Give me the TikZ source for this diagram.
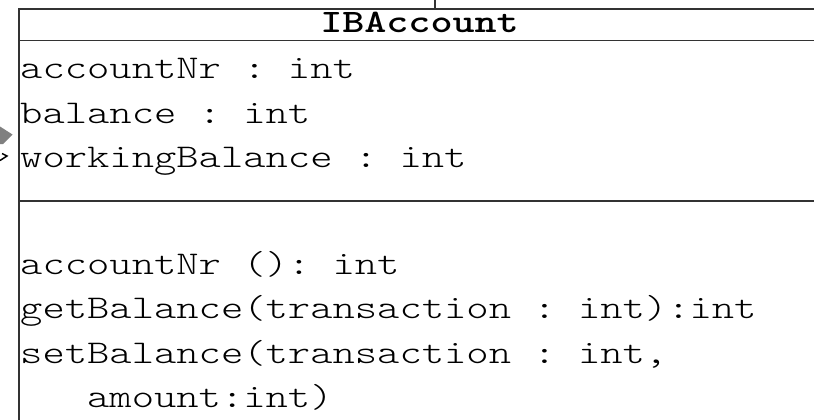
\documentclass[tikz,border=0pt]{standalone}
\usepackage{fontspec}
\setmonofont{Latin Modern Mono Light}
\newcommand{\squash}[1]{\scalebox{1}[0.78]{#1}}
\begin{document}
\frenchspacing
\begin{tikzpicture}[x=1pt,y=-1pt,
  boxline/.style={draw=black!80,line width=1.6pt},
  txt/.style={anchor=base west,inner sep=0pt,font=\ttfamily\fontsize{42.5}{42.5}\selectfont},
  ttl/.style={anchor=base,inner sep=0pt,font=\ttfamily\bfseries\fontsize{42}{42}\selectfont}]
\useasboundingbox (0,0) rectangle (814,420);
\clip (0,0) rectangle (814,420);
% class box
\coordinate (tl) at (19,9);
\coordinate (tr) at (820,9);
\coordinate (bl) at (19,425);
\draw[boxline] (bl) -- (tl) -- (tr);
\draw[boxline] (19,40.5) -- (820,40.5);
\draw[boxline] (19,201) -- (820,201);
\draw[draw=black!80,line width=1.2pt] (435,0) -- (435,9);
% title
\node[ttl] (title) at (419.5,32.5) {\squash{IBAccount}};
% attributes
\node[txt] (a1) at (20,78.5) {\squash{accountNr : int}};
\node[txt] (a2) at (20,123) {\squash{balance : int}};
\node[txt] (a3) at (20,167.5) {\squash{workingBalance : int}};
% operations
\node[txt] (o1) at (20,274) {\squash{accountNr (): int}};
\node[txt] (o2) at (20,318.5) {\squash{getBalance(transaction : int):int}};
\node[txt] (o3) at (20,363) {\squash{setBalance(transaction : int,}};
\node[txt] (o4) at (20,407.5) {\squash{\ \ \ amount:int)}};
% partial arrowheads at left
\fill[black!50] (0,126.5) -- (12.5,134.5) -- (3,144) -- (0,144) -- cycle;
\draw[black,line width=1.5pt] (2,153.5) -- (7,156) -- (0,160.5);
\end{tikzpicture}
\end{document}
